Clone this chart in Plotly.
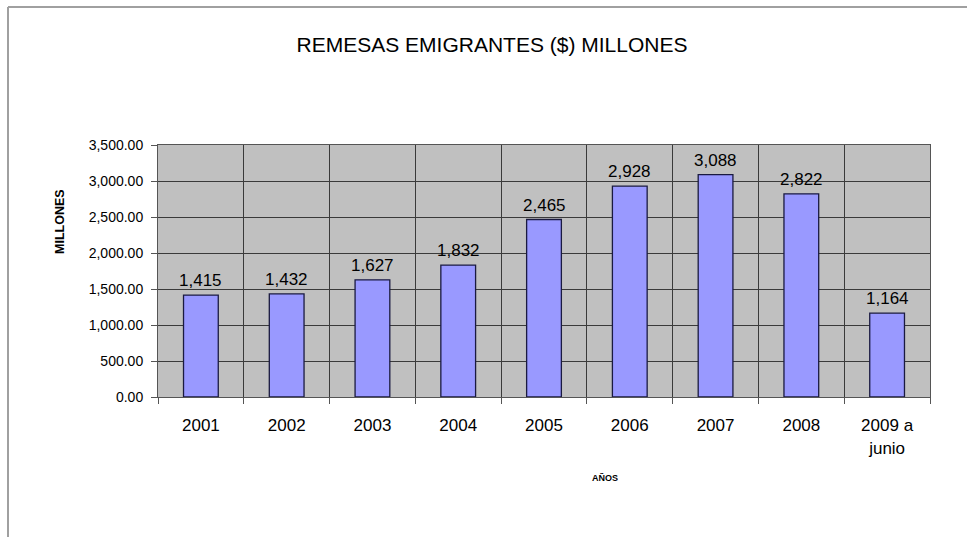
import plotly.graph_objects as go

# Remittances by year, millions of dollars
years = ["2001", "2002", "2003", "2004", "2005", "2006", "2007", "2008", "2009 a<br>junio"]
remesas = [1415, 1432, 1627, 1832, 2465, 2928, 3088, 2822, 1164]
y_ticks = [0, 500, 1000, 1500, 2000, 2500, 3000, 3500]

W, H = 967, 537
L, R, T, B = 158, 37, 145, 140
FONT = "Arial, Liberation Sans"

fig = go.Figure(
    go.Bar(
        x=years,
        y=remesas,
        marker=dict(color="#9999FF", line=dict(color="#1a1a40", width=1.3)),
        hoverinfo="x+y",
    )
)

# value labels above each bar (category axis positions given by index)
annotations = [
    dict(x=i, y=v, xref="x", yref="y", text=f"{v:,}", showarrow=False,
         yanchor="bottom", yshift=3, font=dict(family=FONT, size=17, color="black"))
    for i, v in enumerate(remesas)
]

# axis titles placed in pixel positions of the page
annotations += [
    dict(text="<b>AÑOS</b>", xref="paper", yref="paper",
         x=(605 - L) / (W - L - R), y=(H - B - 478) / (H - T - B),
         showarrow=False, font=dict(family=FONT, size=9, color="black"),
         xanchor="center", yanchor="middle"),
    dict(text="<b>MILLONES</b>", xref="paper", yref="paper",
         x=(60 - L) / (W - L - R), y=(H - B - 222) / (H - T - B),
         textangle=-90, showarrow=False, font=dict(family=FONT, size=12.5, color="black"),
         xanchor="center", yanchor="middle"),
]

# plot area size in pixels, used to place the outer frame lines in paper units
pw = W - L - R
ph = H - T - B
fx = (8 - L) / pw
fy = (T + ph - 7) / ph

fig.update_layout(
    width=W,
    height=H,
    margin=dict(l=L, r=R, t=T, b=B),
    paper_bgcolor="white",
    plot_bgcolor="#C0C0C0",
    bargap=0.595,
    showlegend=False,
    font=dict(family=FONT, color="black"),
    annotations=annotations,
    title=dict(
        text="REMESAS EMIGRANTES ($) MILLONES",
        x=492 / W,
        xanchor="center",
        y=1 - 45 / H,
        yanchor="middle",
        font=dict(family="Liberation Sans Narrow, Arial Narrow, Arial", size=21, color="black"),
    ),
    xaxis=dict(
        type="category",
        categoryorder="array",
        categoryarray=years,
        range=[-0.5, len(years) - 0.5],
        tickson="boundaries",
        ticks="outside",
        ticklen=6,
        tickcolor="#555555",
        ticklabelstandoff=13,
        tickangle=0,
        showgrid=True,
        gridcolor="#3a3a3a",
        gridwidth=1,
        showline=True,
        linecolor="#555555",
        mirror=True,
        tickfont=dict(size=17, color="black"),
        fixedrange=True,
    ),
    yaxis=dict(
        range=[0, 3500],
        tickvals=y_ticks,
        tickformat=",.2f",
        ticks="outside",
        ticklen=6,
        tickcolor="#555555",
        ticklabelstandoff=5,
        showgrid=True,
        gridcolor="#3a3a3a",
        gridwidth=1,
        showline=True,
        linecolor="#555555",
        mirror=True,
        zeroline=False,
        tickfont=dict(size=14, color="black"),
        fixedrange=True,
    ),
    shapes=[
        # outer frame: left and top edges
        dict(type="line", xref="paper", yref="paper",
             x0=fx, x1=fx, y0=(T + ph - H - 5) / ph, y1=fy,
             line=dict(color="#a0a0a0", width=2)),
        dict(type="line", xref="paper", yref="paper",
             x0=fx, x1=(W + 5 - L) / pw, y0=fy, y1=fy,
             line=dict(color="#a0a0a0", width=2)),
    ],
)

fig.write_html("out.html")
